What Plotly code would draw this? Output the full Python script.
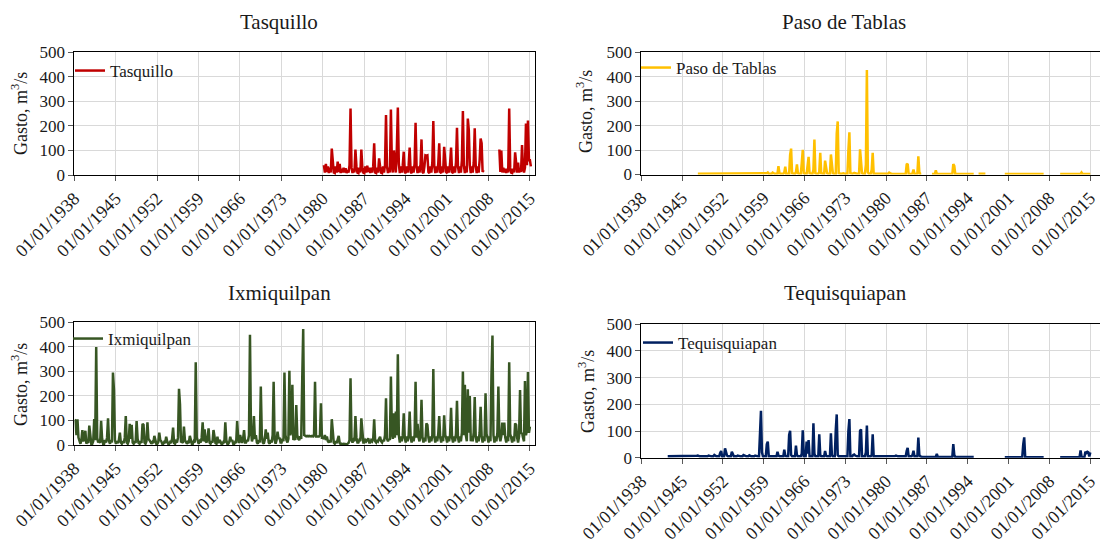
import plotly.graph_objects as go

N = None
W, H = 1100, 544

# sampling months inside each year (bi-monthly readings of the daily series)
slot_months = ["01", "03", "05", "07", "09", "11"]

tick_years = list(range(1938, 2016, 7))
tick_labels = [f"01/01/{y}" for y in tick_years]

station_names = ["Tasquillo", "Paso de Tablas", "Ixmiquilpan", "Tequisquiapan"]
station_colors = ["#C00000", "#FFC000", "#375623", "#002060"]

# ---------------- Tasquillo (m3/s), rows = years from 1980 ----------------
tasquillo_start = 1980
tasquillo = [
    [N, 40, 10, 45, 12, 35],      # 1980
    [8, 30, 10, 108, 40, 10],     # 1981
    [8, 35, 10, 55, 12, 45],      # 1982
    [8, 25, 10, 30, 10, 28],      # 1983
    [8, 20, 10, 40, 271, 30],     # 1984
    [8, 25, 10, 104, 35, 10],     # 1985
    [8, 30, 10, 104, 30, 10],     # 1986
    [8, 35, 10, 38, 12, 30],      # 1987
    [8, 30, 10, 35, 129, 10],     # 1988
    [8, 30, 10, 68, 35, 10],      # 1989
    [8, 35, 10, 40, 244, 35],     # 1990
    [8, 30, 10, 267, 40, 10],     # 1991
    [100, 30, 10, 108, 275, 45],  # 1992
    [8, 35, 10, 40, 95, 12],      # 1993
    [8, 35, 10, 40, 112, 12],     # 1994
    [8, 35, 10, 45, 213, 35],     # 1995
    [8, 35, 10, 40, 145, 12],     # 1996
    [8, 35, 80, 78, 80, 12],      # 1997
    [8, 35, 10, 50, 220, 35],     # 1998
    [8, 35, 10, 45, 129, 12],     # 1999
    [8, 35, 10, 115, 70, 12],     # 2000
    [8, 35, 10, 45, 112, 12],     # 2001
    [8, 35, 10, 50, 192, 35],     # 2002
    [8, 35, 10, 60, 261, 40],     # 2003
    [8, 35, 10, 230, 183, 40],    # 2004
    [8, 35, 10, 50, 190, 40],     # 2005
    [8, 35, 10, 60, 149, 130],    # 2006
    [12, 20, N, N, N, N],         # 2007
    [N, N, N, N, N, N],           # 2008
    [N, N, N, N, N, 104],         # 2009
    [12, 100, 10, 30, 10, 25],    # 2010
    [8, 25, 10, 271, 30, 10],     # 2011
    [8, 25, 10, 92, 35, 10],      # 2012
    [50, 10, 25, 12, 122, 30],    # 2013
    [10, 30, 210, 40, 222, 60],   # 2014
    [60, 35, N, N, N, N],         # 2015
]

# ---------------- Paso de Tablas (m3/s), rows = years from 1947 ----------------
paso_start = 1947
paso = [
    [N, N, N, N, 3, 3],           # 1947
    [3, 3, 3, 3, 4, 3],           # 1948
    [3, 3, 3, 3, 4, 3],           # 1949
    [3, 3, 3, 3, 4, 3],           # 1950
    [3, 3, 3, 3, 4, 3],           # 1951
    [3, 3, 3, 5, 4, 3],           # 1952
    [3, 3, 3, 4, 3, 3],           # 1953
    [3, 3, 3, 4, 3, 3],           # 1954
    [3, 3, 3, 4, 3, 3],           # 1955
    [3, 3, 3, 4, 3, 3],           # 1956
    [3, 3, 3, 4, 3, 3],           # 1957
    [3, 3, 3, 4, 3, 3],           # 1958
    [3, 3, 3, 5, 8, 3],           # 1959
    [3, 3, 3, 8, 5, 3],           # 1960
    [3, 3, 3, 34, 5, 3],          # 1961
    [3, 3, 3, 8, 32, 3],          # 1962
    [3, 3, 3, 80, 106, 5],        # 1963
    [3, 3, 3, 10, 41, 5],         # 1964
    [3, 3, 3, 48, 101, 5],        # 1965
    [3, 3, 3, 30, 72, 5],         # 1966
    [3, 3, 3, 20, 143, 5],        # 1967
    [3, 3, 3, 10, 89, 5],         # 1968
    [3, 3, 3, 57, 30, 5],         # 1969
    [3, 3, 3, 82, 40, 5],         # 1970
    [3, 3, 3, 167, 217, 5],       # 1971
    [3, 3, 3, 5, 5, 3],           # 1972
    [3, 3, 3, 100, 173, 5],       # 1973
    [3, 3, 5, 7, 5, 3],           # 1974
    [3, 3, 3, 103, 30, 5],        # 1975
    [3, 3, 3, 40, 428, 10],       # 1976
    [3, 3, 3, 20, 89, 3],         # 1977
    [3, 3, 3, 3, 3, 3],           # 1978
    [3, 3, 3, 3, 3, 3],           # 1979
    [3, 3, 3, 8, 4, 3],           # 1980
    [2, 2, 2, 2, 2, 2],           # 1981
    [2, 2, 2, 2, 2, 2],           # 1982
    [2, 2, 2, 41, 44, 3],         # 1983
    [2, 2, 2, 5, 20, 3],          # 1984
    [2, 2, 2, 74, 10, 2],         # 1985
    [2, N, N, N, N, N],           # 1986
    [N, N, N, N, N, 2],           # 1987
    [2, 2, 2, 17, 3, 2],          # 1988
    [2, 2, 2, 2, 2, 2],           # 1989
    [2, 2, 2, 2, 2, 2],           # 1990
    [2, 2, 2, 42, 35, 2],         # 1991
    [2, 2, 2, 2, 2, 2],           # 1992
    [2, 2, 2, 2, 2, 2],           # 1993
    [2, 2, 2, 2, 2, 2],           # 1994
    [2, N, N, N, N, 3],           # 1995
    [3, 3, 3, 3, 3, 3],           # 1996
    [3, N, N, N, N, N],           # 1997
    [N, N, N, N, N, N],           # 1998
    [N, N, N, N, N, N],           # 1999
    [N, N, 2, 2, 2, 2],           # 2000
    [2, 2, 2, 2, 2, 2],           # 2001
    [2, 2, 2, 2, 2, 2],           # 2002
    [2, 2, 2, 2, 2, 2],           # 2003
    [2, 2, 2, 2, 2, 2],           # 2004
    [2, 2, 2, 2, 2, 2],           # 2005
    [2, 2, 2, 2, 2, 2],           # 2006
    [2, N, N, N, N, N],           # 2007
    [N, N, N, N, N, N],           # 2008
    [N, N, N, N, N, 2],           # 2009
    [2, 2, 2, 2, 2, 2],           # 2010
    [2, 2, 2, 2, 2, 2],           # 2011
    [2, 2, 2, 2, 2, 2],           # 2012
    [2, 2, 2, 8, 2, 2],           # 2013
    [2, 2, 2, 2, 2, 2],           # 2014
    [2, N, N, N, N, N],           # 2015
]

# ---------------- Ixmiquilpan (m3/s), rows = years from 1938 ----------------
ixmiquilpan_start = 1938
ixmiquilpan = [
    [102, 100, 40, 105, 30, 10],   # 1938
    [5, 20, 61, 15, 30, 58],       # 1939
    [5, 15, 8, 79, 20, 5],         # 1940
    [5, 15, 106, 20, 399, 30],     # 1941
    [10, 20, 8, 99, 25, 5],        # 1942
    [5, 20, 10, 30, 109, 15],      # 1943
    [5, 20, 10, 295, 225, 20],     # 1944
    [5, 15, 8, 20, 50, 10],        # 1945
    [5, 15, 8, 30, 118, 10],       # 1946
    [5, 15, 86, 25, 82, 10],       # 1947
    [5, 15, 8, 98, 25, 8],         # 1948
    [5, 15, 8, 86, 82, 10],        # 1949
    [5, 15, 92, 25, 20, 8],        # 1950
    [5, 12, 8, 37, 20, 5],         # 1951
    [5, 12, 50, 20, 15, 5],        # 1952
    [5, 12, 8, 34, 15, 5],         # 1953
    [5, 12, 8, 25, 71, 8],         # 1954
    [5, 15, 10, 30, 229, 166],     # 1955
    [10, 15, 8, 75, 20, 8],        # 1956
    [5, 12, 8, 37, 15, 5],         # 1957
    [5, 15, 10, 337, 30, 10],      # 1958
    [5, 15, 10, 30, 92, 15],       # 1959
    [64, 15, 10, 30, 68, 10],      # 1960
    [5, 15, 10, 61, 25, 8],        # 1961
    [5, 34, 8, 20, 15, 5],         # 1962
    [5, 12, 8, 92, 20, 5],         # 1963
    [5, 12, 34, 15, 20, 5],        # 1964
    [5, 12, 8, 98, 30, 8],         # 1965
    [41, 15, 8, 25, 61, 10],       # 1966
    [10, 20, 15, 40, 449, 60],     # 1967
    [15, 30, 118, 25, 40, 10],     # 1968
    [5, 20, 10, 238, 40, 10],      # 1969
    [5, 20, 64, 25, 50, 10],       # 1970
    [5, 20, 10, 40, 258, 20],      # 1971
    [5, 20, 54, 25, 30, 10],       # 1972
    [10, 25, 15, 295, 40, 20],     # 1973
    [10, 25, 302, 40, 60, 245],    # 1974
    [20, 30, 20, 163, 40, 25],     # 1975
    [20, 35, 25, 265, 473, 40],    # 1976
    [35, 35, 37, 35, 37, 35],      # 1977
    [35, 37, 35, 40, 258, 35],     # 1978
    [35, 35, 35, 40, 170, 30],     # 1979
    [30, 25, 41, 20, 35, 15],      # 1980
    [10, 20, 10, 105, 30, 10],     # 1981
    [5, 15, 8, 20, 37, 8],         # 1982
    [3, 5, 3, 5, 4, 3],            # 1983
    [3, 5, 8, 20, 272, 20],        # 1984
    [10, 20, 15, 118, 30, 10],     # 1985
    [10, 20, 15, 109, 30, 10],     # 1986
    [10, 20, 15, 22, 27, 10],      # 1987
    [10, 20, 15, 25, 105, 15],     # 1988
    [10, 20, 15, 25, 34, 15],      # 1989
    [10, 20, 15, 40, 190, 25],     # 1990
    [15, 25, 20, 279, 50, 25],     # 1991
    [129, 30, 136, 40, 370, 40],   # 1992
    [10, 35, 15, 40, 129, 30],     # 1993
    [10, 35, 15, 40, 136, 30],     # 1994
    [10, 35, 15, 40, 258, 30],     # 1995
    [86, 30, 15, 40, 184, 30],     # 1996
    [10, 30, 15, 88, 82, 30],      # 1997
    [10, 35, 15, 40, 310, 35],     # 1998
    [10, 35, 15, 45, 118, 30],     # 1999
    [10, 35, 15, 121, 40, 30],     # 2000
    [10, 35, 15, 40, 152, 30],     # 2001
    [10, 35, 15, 45, 180, 30],     # 2002
    [10, 35, 15, 50, 299, 40],     # 2003
    [245, 40, 15, 227, 50, 200],   # 2004
    [15, 35, 15, 50, 195, 35],     # 2005
    [10, 35, 15, 50, 156, 35],     # 2006
    [10, 35, 15, 211, 45, 30],     # 2007
    [10, 35, 15, 286, 446, 40],    # 2008
    [10, 35, 15, 50, 238, 35],     # 2009
    [15, 35, 91, 40, 91, 30],      # 2010
    [10, 35, 15, 337, 45, 30],     # 2011
    [10, 35, 15, 88, 82, 30],      # 2012
    [10, 35, 224, 45, 50, 30],     # 2013
    [15, 261, 40, 60, 297, 50],    # 2014
    [75, N, N, N, N, N],           # 2015
]

# ---------------- Tequisquiapan (m3/s), rows = years from 1942 ----------------
tequisquiapan_start = 1942
tequisquiapan = [
    [N, N, N, 5, 5, 5],            # 1942
    [5, 5, 5, 5, 6, 5],            # 1943
    [5, 5, 5, 6, 5, 5],            # 1944
    [5, 5, 5, 6, 5, 5],            # 1945
    [5, 5, 5, 6, 5, 5],            # 1946
    [5, 5, 5, 7, 8, 5],            # 1947
    [5, 5, 5, 6, 5, 5],            # 1948
    [5, 5, 5, 8, 6, 5],            # 1949
    [5, 5, 5, 10, 7, 5],           # 1950
    [5, 5, 5, 18, 25, 5],          # 1951
    [5, 5, 35, 15, 8, 5],          # 1952
    [5, 5, 5, 22, 8, 5],           # 1953
    [5, 5, 5, 8, 6, 5],            # 1954
    [5, 5, 5, 10, 8, 5],           # 1955
    [5, 5, 5, 9, 6, 5],            # 1956
    [5, 5, 5, 8, 6, 5],            # 1957
    [5, 5, 130, 176, 20, 5],       # 1958
    [5, 5, 5, 50, 60, 5],          # 1959
    [5, 5, 5, 6, 5, 5],            # 1960
    [5, 5, 22, 8, 5, 5],           # 1961
    [5, 5, 5, 30, 8, 5],           # 1962
    [5, 5, 85, 101, 10, 5],        # 1963
    [5, 5, 5, 45, 10, 5],          # 1964
    [5, 5, 5, 15, 103, 5],         # 1965
    [5, 5, 60, 15, 66, 5],         # 1966
    [5, 5, 5, 129, 15, 5],         # 1967
    [5, 5, 5, 88, 10, 5],          # 1968
    [5, 5, 5, 25, 8, 5],           # 1969
    [5, 5, 5, 91, 10, 5],          # 1970
    [5, 5, 103, 162, 10, 5],       # 1971
    [5, 5, 5, 6, 5, 5],            # 1972
    [5, 5, 5, 100, 145, 5],        # 1973
    [5, 5, 10, 12, 8, 5],          # 1974
    [5, 5, 5, 100, 106, 5],        # 1975
    [5, 5, 5, 20, 120, 5],         # 1976
    [5, 5, 5, 10, 88, 5],          # 1977
    [5, 5, 5, 6, 5, 5],            # 1978
    [5, 5, 5, 5, 7, 5],            # 1979
    [5, 5, 5, 6, 5, 5],            # 1980
    [5, 5, 5, 6, 8, 5],            # 1981
    [5, 5, 5, 7, 6, 5],            # 1982
    [5, 5, 5, 25, 37, 5],          # 1983
    [5, 5, 5, 10, 26, 5],          # 1984
    [5, 5, 5, 75, 10, 5],          # 1985
    [3, 3, 3, 3, 3, 3],            # 1986
    [3, 3, 3, 3, 3, 3],            # 1987
    [3, 3, 3, 3, 14, 3],           # 1988
    [3, 3, 3, 3, 3, 3],            # 1989
    [3, 3, 3, 3, 3, 3],            # 1990
    [3, 3, 3, 51, 10, 3],          # 1991
    [3, 3, 3, 3, 3, 3],            # 1992
    [3, 3, 3, 3, 3, 3],            # 1993
    [3, 3, 3, 3, 3, 3],            # 1994
    [3, N, N, N, N, N],            # 1995
    [N, N, N, N, N, N],            # 1996
    [N, N, N, N, N, N],            # 1997
    [N, N, N, N, N, N],            # 1998
    [N, N, N, N, N, N],            # 1999
    [N, N, 2, 2, 2, 2],            # 2000
    [2, 2, 2, 2, 2, 2],            # 2001
    [2, 2, 2, 2, 2, 2],            # 2002
    [2, 2, 2, 50, 76, 2],          # 2003
    [2, 2, 2, 2, 2, 2],            # 2004
    [2, 2, 2, 2, 2, 2],            # 2005
    [2, 2, 2, 2, 2, 2],            # 2006
    [2, N, N, N, N, N],            # 2007
    [N, N, N, N, N, N],            # 2008
    [N, N, N, N, N, 2],            # 2009
    [2, 2, 2, 2, 2, 2],            # 2010
    [2, 2, 2, 2, 2, 2],            # 2011
    [2, 2, 2, 2, 2, 2],            # 2012
    [2, 2, 27, 5, 2, 2],           # 2013
    [3, 22, 18, 22, 20, 5],        # 2014
    [20, N, N, N, N, N],           # 2015
]


def build_series(start_year, rows):
    xs, ys = [], []
    for i, row in enumerate(rows):
        yr = start_year + i
        for k, v in enumerate(row):
            xs.append(f"{yr}-{slot_months[k]}-15")
            ys.append(v)
    return xs, ys


series = [
    build_series(tasquillo_start, tasquillo),
    build_series(paso_start, paso),
    build_series(ixmiquilpan_start, ixmiquilpan),
    build_series(tequisquiapan_start, tequisquiapan),
]

FONT = "Liberation Serif"
TXT = "#1a1a1a"

# panel geometry in pixels: (left, right, top, bottom, range_end)
panels = [
    (74.3, 535.3, 52.3, 175.0, "2015-12-13"),
    (641.3, 1100.0, 52.3, 174.5, "2016-09-15"),
    (74.3, 535.3, 322.3, 445.0, "2015-12-13"),
    (641.3, 1100.0, 324.2, 457.7, "2016-09-15"),
]

fig = go.Figure()
legend_ids = ["legend", "legend2", "legend3", "legend4"]
for i, (name, color, (xs, ys)) in enumerate(zip(station_names, station_colors, series)):
    sfx = "" if i == 0 else str(i + 1)
    fig.add_trace(go.Scatter(
        x=xs, y=ys, mode="lines", name=name,
        line=dict(color=color, width=2.5),
        xaxis="x" + sfx, yaxis="y" + sfx,
        legend=legend_ids[i], showlegend=True, connectgaps=False,
    ))

layout = dict(
    width=W, height=H,
    margin=dict(l=0, r=0, t=0, b=0, autoexpand=False),
    paper_bgcolor="white", plot_bgcolor="white",
    font=dict(family=FONT, color=TXT),
    annotations=[],
)

tick_vals = [f"{y}-01-01" for y in tick_years]
legend_pos = [(70, 71), (636, 68), (68, 339), (638, 343)]
title_pos = [(279, 22), (844, 22), (279, 293), (845, 293)]
ytitle_pos = [(19, 114), (585, 112), (19, 385), (586, 392)]

for i, (l, r, t, b, rend) in enumerate(panels):
    sfx = "" if i == 0 else str(i + 1)
    layout["xaxis" + sfx] = dict(
        domain=[l / W, r / W], anchor="y" + sfx, type="date",
        range=["1938-01-01", rend], automargin=False,
        tickmode="array", tickvals=tick_vals, ticktext=tick_labels,
        tickangle=-45, tickfont=dict(size=18, family=FONT, color=TXT),
        ticklabeloverflow="allow",
        showgrid=True, gridcolor="#D9D9D9", gridwidth=1,
        showline=True, linecolor="black", linewidth=1, mirror=True,
        ticks="outside", ticklen=5, tickcolor="#595959",
        zeroline=False,
    )
    layout["yaxis" + sfx] = dict(
        domain=[1 - b / H, 1 - t / H], anchor="x" + sfx,
        range=[0, 500], tickmode="linear", tick0=0, dtick=100, automargin=False,
        tickfont=dict(size=17, family=FONT, color=TXT),
        showgrid=True, gridcolor="#D9D9D9", gridwidth=1,
        showline=True, linecolor="black", linewidth=1, mirror=True,
        ticks="outside", ticklen=5, tickcolor="#595959",
        zeroline=False,
    )
    lx, ly = legend_pos[i]
    layout[legend_ids[i]] = dict(
        x=lx / W, y=1 - ly / H, xanchor="left", yanchor="middle",
        bgcolor="rgba(0,0,0,0)", borderwidth=0,
        font=dict(size=17, family=FONT, color=TXT),
    )
    tx, ty = title_pos[i]
    layout["annotations"].append(dict(
        text=station_names[i], x=tx / W, y=1 - ty / H, xref="paper", yref="paper",
        xanchor="center", yanchor="middle", showarrow=False,
        font=dict(size=21, family=FONT, color=TXT),
    ))
    ax, ay = ytitle_pos[i]
    layout["annotations"].append(dict(
        text="Gasto, m<sup>3</sup>/s", x=ax / W, y=1 - ay / H, xref="paper", yref="paper",
        xanchor="center", yanchor="middle", showarrow=False, textangle=-90,
        font=dict(size=18, family=FONT, color=TXT),
    ))

fig.update_layout(**layout)
fig.write_html("out.html")
